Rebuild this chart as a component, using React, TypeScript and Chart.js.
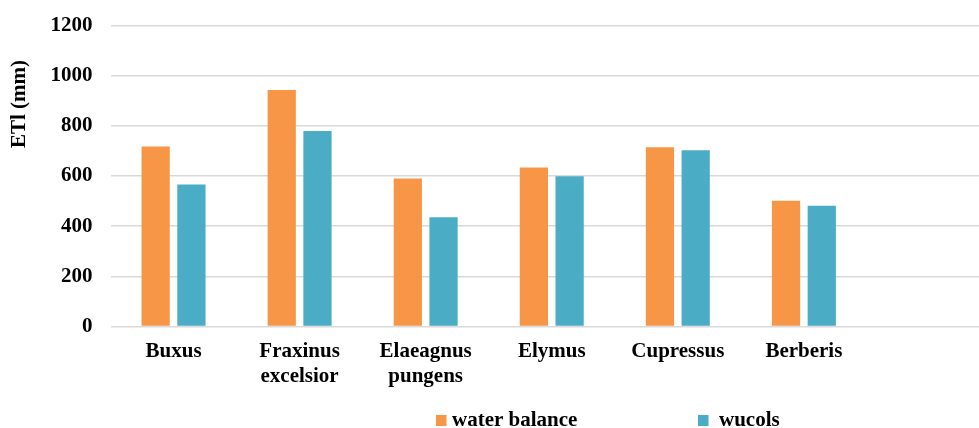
import React, { useEffect, useRef } from "react";
import { Chart, registerables } from "chart.js";

Chart.register(...registerables);

const categories: (string | string[])[] = [
  "Buxus",
  ["Fraxinus", "excelsior"],
  ["Elaeagnus", "pungens"],
  "Elymus",
  "Cupressus",
  "Berberis",
  "",
];
const waterBalance: (number | null)[] = [718, 943, 590, 634, 715, 502, null];
const wucols: (number | null)[] = [566, 780, 436, 599, 703, 482, null];
const seriesNames = ["water balance", "wucols"];
const seriesColors = ["#F79646", "#4BACC6"];
const yTicks = { min: 0, max: 1200, step: 200 };
const yTitle = "ETl (mm)";

const FONT = "'Liberation Serif', 'Times New Roman', serif";

const overlayPlugin = {
  id: "overlay",
  afterDraw(chart: any) {
    const ctx = chart.ctx as CanvasRenderingContext2D;
    ctx.save();
    ctx.fillStyle = "#000";
    ctx.font = `bold 21px ${FONT}`;
    // y axis title
    ctx.save();
    ctx.translate(20, 104);
    ctx.rotate(-Math.PI / 2);
    ctx.textAlign = "center";
    ctx.textBaseline = "middle";
    ctx.fillText(yTitle, 0, 0);
    ctx.restore();
    // legend
    const items = [
      { x: 436, tx: 452 },
      { x: 698, tx: 719 },
    ];
    items.forEach((it, i) => {
      ctx.fillStyle = seriesColors[i];
      ctx.fillRect(it.x, 415, 10.5, 11);
      ctx.fillStyle = "#000";
      ctx.textAlign = "left";
      ctx.textBaseline = "alphabetic";
      ctx.fillText(seriesNames[i], it.tx, 426);
    });
    ctx.restore();
  },
};

export default function App() {
  const ref = useRef<HTMLCanvasElement | null>(null);
  useEffect(() => {
    if (!ref.current) return;
    const tickFont = { family: FONT, size: 21, weight: "bold" as const, lineHeight: 1.2 };
    const chart = new Chart(ref.current, {
      type: "bar",
      data: {
        labels: categories,
        datasets: [
          {
            label: seriesNames[0],
            data: waterBalance,
            backgroundColor: seriesColors[0],
            categoryPercentage: 0.567,
            barPercentage: 0.79,
          },
          {
            label: seriesNames[1],
            data: wucols,
            backgroundColor: seriesColors[1],
            categoryPercentage: 0.567,
            barPercentage: 0.79,
          },
        ],
      },
      options: {
        responsive: false,
        animation: false,
        layout: { padding: { left: 50.5, top: 25.5, right: 0, bottom: 27 } },
        plugins: {
          legend: { display: false },
          tooltip: { enabled: false },
          title: { display: false },
        },
        scales: {
          x: {
            grid: { display: false, drawTicks: false },
            border: { display: false },
            ticks: {
              color: "#000",
              font: tickFont,
              padding: 12,
              maxRotation: 0,
              autoSkip: false,
            },
          },
          y: {
            min: yTicks.min,
            max: yTicks.max,
            grid: {
              color: "#d9d9d9",
              lineWidth: 1.5,
              drawTicks: true,
              tickLength: 18,
              tickColor: "rgba(0,0,0,0)",
            },
            border: { display: false },
            ticks: {
              stepSize: yTicks.step,
              color: "#000",
              font: tickFont,
              padding: 0,
              callback: (v: any) => String(v),
            },
          },
        },
      },
      plugins: [overlayPlugin],
    });
    return () => chart.destroy();
  }, []);
  return (
    <div
      style={{
        position: "fixed",
        left: 0,
        top: 0,
        width: 979,
        height: 428,
        overflow: "hidden",
        background: "#fff",
      }}
    >
      <canvas ref={ref} width={993} height={428} style={{ width: 993, height: 428, display: "block" }} />
    </div>
  );
}
